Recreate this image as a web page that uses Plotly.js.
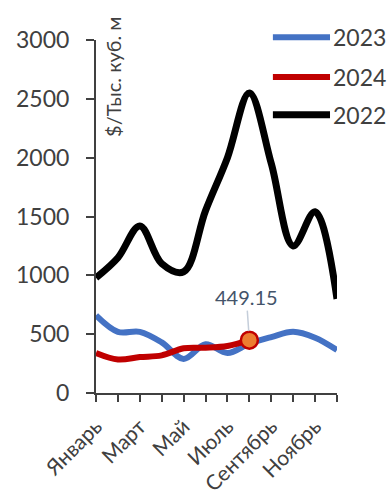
<!DOCTYPE html>
<html>
<head>
<meta charset="utf-8">
<script src="https://cdn.plot.ly/plotly-3.0.1.min.js"></script>
<style>
  html, body { margin: 0; padding: 0; background: #ffffff; }
  #chart { width: 387px; height: 496px; }
</style>
</head>
<body>
<div id="chart"></div>
<script>
// Monthly gas price, $ per thousand cubic metres
const months = ["Январь", "Февраль", "Март", "Апрель", "Май", "Июнь",
                "Июль", "Август", "Сентябрь", "Октябрь", "Ноябрь", "Декабрь"];
const seriesNames = ["2023", "2024", "2022"];
const values2023 = [660, 520, 520, 430, 290, 415, 340, 420, 475, 520, 470, 365];
const values2024 = [340, 285, 305, 320, 380, 385, 400, 449.15];
const values2022 = [980, 1150, 1420, 1100, 1030, 1550, 2000, 2550, 1950, 1250, 1540, 800];
const yTicks = [0, 500, 1000, 1500, 2000, 2500, 3000];
const yTitle = "$/Тыс. куб. м";

const colors = { "2023": "#4472C4", "2024": "#C00000", "2022": "#000000" };
const widths = { "2023": 6, "2024": 6, "2022": 7 };
const seriesData = { "2023": values2023, "2024": values2024, "2022": values2022 };
const FONT = "Lato, 'Open Sans', sans-serif";
const INK = "#404040";

const xIdx = months.map((_, i) => i);

const traces = seriesNames.map(name => ({
  type: "scatter",
  mode: "lines",
  name: name,
  x: seriesData[name].map((_, i) => i),
  y: seriesData[name],
  line: { color: colors[name], width: widths[name], shape: "spline", smoothing: 1 },
  hoverinfo: "x+y",
  showlegend: false
}));

// highlighted latest 2024 point
const lastIdx = values2024.length - 1;
traces.push({
  type: "scatter",
  mode: "markers",
  x: [lastIdx],
  y: [values2024[lastIdx]],
  marker: { size: 17, color: "#ED7D31", line: { color: "#C00000", width: 2.5 } },
  showlegend: false,
  hoverinfo: "y"
});

// legend drawn by hand: long line swatch + label
const legendY = [1.008, 0.895, 0.788];
const shapes = seriesNames.map((name, k) => ({
  type: "line", xref: "paper", yref: "paper",
  x0: 0.734, x1: 0.971, y0: legendY[k], y1: legendY[k],
  line: { color: colors[name], width: widths[name] }
}));

const annotations = seriesNames.map((name, k) => ({
  xref: "paper", yref: "paper", x: 0.975, y: legendY[k],
  xanchor: "left", yanchor: "middle", showarrow: false,
  text: name, font: { family: FONT, size: 23, color: INK }
}));

annotations.push({
  xref: "paper", yref: "paper", x: 0.07, y: 0.895,
  xanchor: "center", yanchor: "middle", showarrow: false,
  textangle: -90, text: yTitle, font: { family: FONT, size: 20, color: INK }
});

annotations.push({
  x: lastIdx, y: values2024[lastIdx], xref: "x", yref: "y",
  text: values2024[lastIdx].toFixed(2),
  showarrow: true, arrowhead: 0, arrowwidth: 1.5, arrowcolor: "#C5CEDA",
  ax: -3, ay: -43, standoff: 9,
  font: { family: FONT, size: 20, color: "#44546A" }
});

const layout = {
  width: 387, height: 496,
  margin: { l: 96, r: 50, t: 40, b: 103, pad: 0 },
  paper_bgcolor: "#ffffff", plot_bgcolor: "#ffffff",
  font: { family: FONT, color: INK },
  showlegend: false,
  xaxis: {
    range: [0, months.length - 1],
    tickmode: "array",
    tickvals: xIdx,
    ticktext: months.map((m, i) => (i % 2 === 0 ? m : "")),
    tickangle: -45,
    ticks: "outside", ticklen: 7, tickwidth: 2, tickcolor: INK,
    ticklabelstandoff: 4,
    showline: true, linecolor: INK, linewidth: 2,
    showgrid: false, zeroline: false,
    tickfont: { family: FONT, size: 21, color: INK }
  },
  yaxis: {
    range: [0, 3000],
    tickmode: "array", tickvals: yTicks,
    ticks: "outside", ticklen: 8, tickwidth: 2, tickcolor: INK,
    ticklabelstandoff: 12,
    showline: true, linecolor: INK, linewidth: 2,
    showgrid: false, zeroline: false,
    tickfont: { family: FONT, size: 23, color: INK }
  },
  shapes: shapes,
  annotations: annotations
};

Plotly.newPlot("chart", traces, layout, { displayModeBar: false, staticPlot: true });
</script>
</body>
</html>
